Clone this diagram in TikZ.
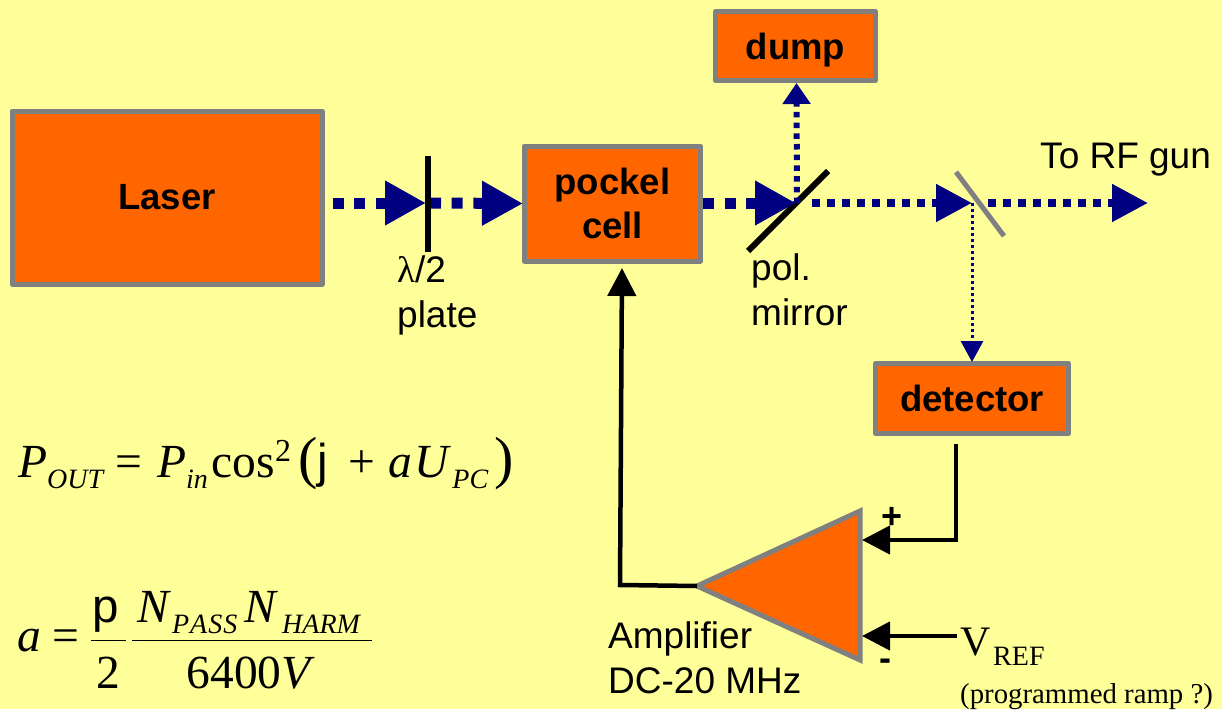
\documentclass[tikz,border=0pt]{standalone}
\usepackage{fontspec}
\setmainfont{Liberation Sans}
\newfontfamily\timesf{Liberation Serif}
\usetikzlibrary{positioning, arrows.meta, calc}
\definecolor{paper}{HTML}{FFFF99}
\definecolor{boxfill}{HTML}{FF6600}
\definecolor{beamblue}{HTML}{000080}
\newcommand{\lowtxt}[2]{\raisebox{#1}{\fontsize{28}{28}\selectfont\itshape #2}}
\newcommand{\bigparen}[1]{{\fontsize{58}{58}\selectfont #1}}

\begin{document}
\begin{tikzpicture}[
  x=1pt, y=-1pt,
  block/.style={draw=gray, fill=boxfill, line width=5pt, line join=round, align=center, inner sep=0pt,
                font=\fontsize{36.5}{44}\selectfont\bfseries},
  lbl/.style={align=left, inner sep=0pt, anchor=base west, font=\fontsize{37}{44.5}\selectfont},
  eq/.style={inner sep=0pt, anchor=base west, font=\fontsize{47.5}{50}\selectfont\timesf},
  serif/.style={inner sep=0pt, anchor=base west, font=\timesf},
  beam/.style={-{Triangle[length=41pt, width=42pt]}, color=beamblue, line width=11pt, dash pattern=on 11pt off 10.7pt},
  beamb/.style={-{Triangle[length=36pt, width=36pt]}, color=beamblue, line width=8pt, dash pattern=on 8pt off 7pt},
  beamc/.style={-{Triangle[length=21pt, width=27pt]}, color=beamblue, line width=6pt, dash pattern=on 5.5pt off 5.2pt},
  beamd/.style={-{Triangle[length=21pt, width=22pt]}, color=beamblue, line width=3pt, dash pattern=on 3pt off 3pt},
  sig/.style={-{Triangle[length=28pt, width=28pt]}, line width=4.5pt, line join=miter},
]
\useasboundingbox (0,0) rectangle (1222,709);
\fill[paper] (0,0) rectangle (1222,709);

% Nodes
\node[block, minimum width=310pt, minimum height=173pt] (laser) at (167,197.5) {Laser};
\node[block, minimum width=176pt, minimum height=115pt] (pockel) at (612.5,203.5) {pockel\\cell};
\node[block, minimum width=160pt, minimum height=69pt, text depth=0pt] (dump) at (795.5,46) {dump};
\node[block, minimum width=193pt, minimum height=70pt] (detector) at (972,398.5) {detector};

\coordinate (platec) at (428,203);
\coordinate (polc) at (796,203);
\coordinate (splitc) at (972,203);
\coordinate (gunend) at (1148,203);
\coordinate (amptip) at (697,586);
\coordinate (amptop) at (860,511);
\coordinate (ampbot) at (860,660);
\coordinate (fbtop) at (622,268);
\coordinate (plusin) at (862,540);
\coordinate (minusin) at (862,636);
\coordinate (vrefend) at (957,636);

% Optics
\draw[line width=6pt] (748,251) -- (828,171);
\draw[gray, line width=5pt] (956,172) -- (1004,236);

% Arrows - beam
\draw[beam] ($(laser.east |- platec)+(8,0)$) -- ($(platec)+(-2,0)$);
\draw[beam] ($(platec)+(2,0)$) -- ($(pockel.west)+(1,0)$);
\draw[beam] (pockel.east |- polc) -- (polc);
\draw[beamc] ($(polc)+(1,0)$) -- ($(dump.south)+(1,0)$);
\draw[beamb] ($(polc)+(16,0)$) -- (splitc);
\draw[beamb] ($(splitc)+(16,0)$) -- (gunend);
\draw[beamd] (splitc) -- ($(detector.north)+(0,1)$);

\draw[line width=6pt] (428,156) -- (428,252);

% Amplifier
\filldraw[draw=gray, fill=boxfill, line width=5pt, line join=miter] (amptip) -- (amptop) -- (ampbot) -- cycle;

% Arrows - signal
\draw[sig] (amptip) -- (620,585) -- (fbtop);
\draw[sig] ($(detector.south)+(-16,8)$) |- (plusin);
\draw[sig] (vrefend) -- (minusin);

% Labels
\node[lbl] (lblplate) at (397,327) {\fontspec{Liberation Serif}λ\fontspec{Liberation Sans}/2\\plate};
\node[lbl] (lblpol) at (751,325) {pol.\\mirror};
\node[lbl] (lblgun) at (1040,168) {To RF gun};
\node[lbl] (lblamp) at (608,693) {Amplifier\\DC-20 MHz};
\node[lbl, font=\fontsize{36}{36}\selectfont\bfseries] (lblplus) at (881,528) {+};
\node[lbl, font=\fontsize{36}{36}\selectfont\bfseries] (lblminus) at (879,670) {-};
\node[serif, font=\fontsize{42}{42}\selectfont\timesf] (lblv) at (960,655) {V};
\node[serif, font=\fontsize{28}{28}\selectfont\timesf] (lblref) at (993,665) {REF};
\node[serif, font=\fontsize{28.8}{28.8}\selectfont\timesf] (lblramp) at (960,703) {(programmed ramp ?)};

% Equations
\node[eq] (eqout) at (18,477) {\textit{P}\lowtxt{-11pt}{OUT}\hspace{12pt}=\hspace{15pt}\textit{P}\lowtxt{-11pt}{in}\hspace{4pt}cos\raisebox{16pt}{\fontsize{32}{32}\selectfont 2}\hspace{7pt}\bigparen{(}\fontspec{Liberation Sans}j\timesf\hspace{21pt}+\hspace{13pt}\textit{a}\hspace{2pt}\textit{U}\hspace{1pt}\lowtxt{-11pt}{PC}\hspace{6pt}\bigparen{)}};
\node[eq] (eqa) at (17,651) {\textit{a}\hspace{12pt}=};
\node[eq, anchor=base] (eqp) at (106,622) {\fontspec{Liberation Sans}p};
\node[eq, anchor=base] (eqtwo) at (108,688) {2};
\node[eq] (eqn) at (137,622) {\textit{N}\hspace{1pt}\lowtxt{-11pt}{P\hspace{1pt}A\hspace{1pt}S\hspace{1pt}S}\hspace{7pt}\textit{N}\hspace{4pt}\lowtxt{-11pt}{HARM}};
\node[eq, anchor=base] (eqv) at (251,688) {6400\textit{V}};
\draw[line width=1pt] (91,640) -- (126,640);
\draw[line width=1pt] (132,640) -- (372,640);

\end{tikzpicture}
\end{document}
